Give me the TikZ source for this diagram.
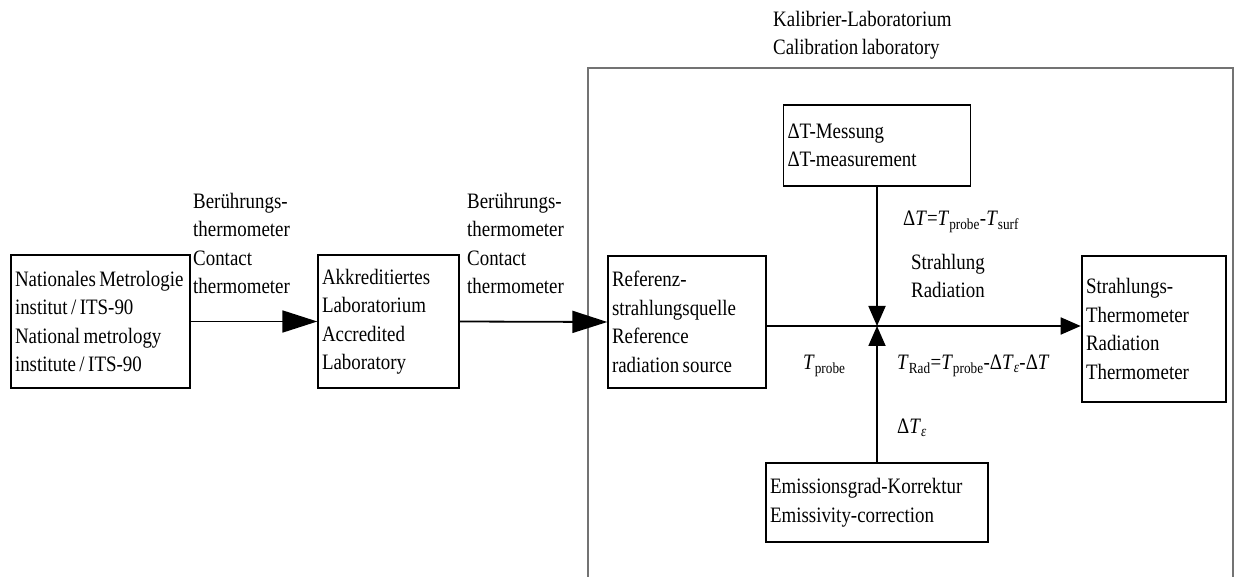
\documentclass[tikz,border=0pt]{standalone}
\usepackage{fontspec}
\setmainfont{Liberation Serif}[FakeStretch=0.86, WordSpace=0.75]
\usetikzlibrary{arrows.meta}
\newcommand\myfont{\fontsize{22}{28.5}\selectfont}
\newcommand\tightsp{\spaceskip=3.5pt\relax\xspaceskip=3.5pt\relax\hyphenpenalty=10000\relax}
\begin{document}
\begin{tikzpicture}[x=1pt,y=-1pt,
  every node/.style={font=\myfont, execute at begin node=\tightsp},
  box/.style={draw, line width=1.3pt, align=left, inner xsep=4pt, inner ysep=0pt},
  thickbox/.style={box, line width=2.6pt},
  bigarr/.style={line width=1.8pt, -{Triangle[length=35pt,width=22pt]}},
  smallarr/.style={line width=1.8pt, -{Triangle[length=20pt,width=17pt]}},
  lbl/.style={align=left, inner sep=0pt, anchor=north west},
  frame/.style={draw=black!55, line width=1.5pt}]
\useasboundingbox (0,0) rectangle (1240,577);
\fill[white] (0,0) rectangle (1240,577);
% frame
\draw[frame] (588,577) -- (588,68) -- (1233,68) -- (1233,577);
\node[lbl] (title) at (773,11) {Kalibrier-Laboratorium\\Calibration laboratory};
% boxes
\node[box, text width=171pt, minimum height=133pt] (nmi) at (100.5,321.5)
  {Nationales Metrologie\\institut / ITS-90\\National metrology\\institute / ITS-90};
\node[box, text width=133pt, minimum height=133pt] (akk) at (388.5,321.5)
  {Akkreditiertes\\Laboratorium\\Accredited\\Laboratory};
\node[box, text width=150pt, minimum height=132pt] (ref) at (687,322)
  {Referenz-\\strahlungsquelle\\Reference\\radiation source};
\node[box, text width=179pt, minimum height=81pt] (dtm) at (877,145.5)
  {ΔT-Messung\\ΔT-measurement};
\node[thickbox, text width=136pt, minimum height=146pt] (rth) at (1154,329)
  {Strahlungs-\\Thermometer\\Radiation\\Thermometer};
\node[thickbox, text width=214pt, minimum height=79pt] (emi) at (877,502.5)
  {Emissionsgrad-Korrektur\\Emissivity-correction};
\coordinate (J) at (877,326);
% connectors
\draw[bigarr] (nmi.east) -- (akk.west);
\draw[bigarr] (akk.east) -- (ref.west);
\draw[line width=1.8pt] (ref.east |- J) -- (J);
\draw[smallarr] (J) -- (rth.west |- J);
\draw[smallarr] (dtm.south) -- (J);
\draw[smallarr] (emi.north) -- (J);
% labels
\node[lbl] (l1) at (193,193) {Berührungs-\\thermometer\\Contact\\thermometer};
\node[lbl] (l2) at (467,193) {Berührungs-\\thermometer\\Contact\\thermometer};
\node[anchor=west, inner sep=0pt] (ldt) at (903,222)
  {Δ\textit{T}=\textit{T}\textsubscript{probe}-\textit{T}\textsubscript{surf}};
\node[lbl] (lstr) at (911,254) {Strahlung\\Radiation};
\node[anchor=west, inner sep=0pt] (ltp) at (803,366) {\textit{T}\textsubscript{probe}};
\node[anchor=west, inner sep=0pt] (ltr) at (897,366)
  {\textit{T}\textsubscript{Rad}=\textit{T}\textsubscript{probe}-Δ\textit{T}\textsubscript{\textit{ε}}-Δ\textit{T}};
\node[anchor=west, inner sep=0pt] (lde) at (897,428) {Δ\textit{T}\textsubscript{\textit{ε}}};
\end{tikzpicture}
\end{document}
